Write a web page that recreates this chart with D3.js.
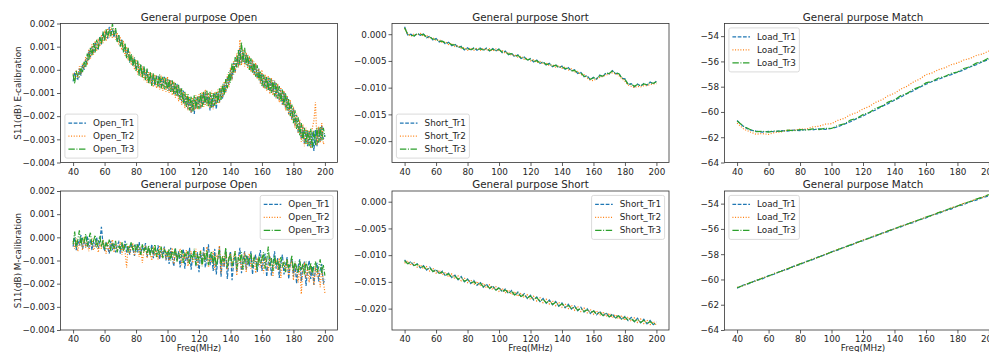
<!DOCTYPE html>
<html>
<head>
<meta charset="utf-8">
<script src="https://cdn.jsdelivr.net/npm/d3@7"></script>
<style>
  body { margin: 0; background: #fff; }
  text { font-family: 'DejaVu Sans', sans-serif; fill: #262626; }
</style>
</head>
<body>
<svg id="chart" width="989" height="352"></svg>
<script>
// sweep points (MHz)
const freq1 = d3.range(40, 201, 1);
const freq2 = d3.range(40, 201, 2);
const freq4 = d3.range(40, 201, 4);
const xTicks = [40, 60, 80, 100, 120, 140, 160, 180, 200];

const openTicks = [0.002, 0.001, 0, -0.001, -0.002, -0.003, -0.004];
const shortTicks = [0, -0.005, -0.010, -0.015, -0.020];
const matchTicks = [-54, -56, -58, -60, -62, -64];

// Open / Short values are stored in units of 1e-5 dB
const UNIT = 1e-5;

// Open, E-calibration, every 1 MHz
const openE_Tr1 = [
  -50, -10, -35, -40, 5, -25, 20, 0, 45, 25,
  85, 55, 100, 70, 120, 95, 90, 145, 110, 160,
  130, 170, 135, 185, 150, 175, 140, 170, 125, 150,
  105, 130, 80, 100, 55, 90, 35, 60, 20, 50,
  0, 35, -15, 20, -30, 10, -40, 0, -55, -15,
  -65, -20, -70, -30, -25, -75, -35, -70, -30, -80,
  -40, -90, -45, -95, -55, -110, -60, -115, -80, -135,
  -90, -150, -110, -170, -125, -185, -130, -190, -120, -165,
  -115, -170, -105, -150, -95, -145, -100, -175, -110, -165,
  -100, -170, -95, -140, -80, -125, -60, -95, -30, -65,
  0, -40, 30, -10, 60, 15, 95, 30, 80, 25,
  70, 15, 55, 0, 40, -20, 25, -35, 5, -55,
  -15, -75, -30, -85, -35, -95, -40, -100, -50, -120,
  -65, -130, -85, -150, -95, -165, -115, -190, -140, -215,
  -165, -240, -195, -270, -225, -300, -245, -320, -260, -330,
  -265, -335, -270, -350, -260, -330, -250, -310, -240, -300,
  -280];
const openE_Tr2 = [
  -15, -45, 0, -35, 15, -20, 30, 5, 55, 20,
  90, 45, 110, 65, 125, 80, 135, 100, 150, 115,
  170, 125, 180, 140, 185, 135, 175, 130, 160, 110,
  140, 85, 125, 60, 100, 40, 80, 20, 60, 0,
  45, -20, 30, -30, 15, -45, 0, -55, -10, -60,
  -15, -75, -20, -80, -30, -85, -25, -90, -35, -95,
  -30, -100, -45, -110, -50, -120, -65, -135, -80, -150,
  -95, -165, -105, -175, -115, -185, -120, -175, -110, -170,
  -105, -165, -95, -160, -85, -155, -100, -165, -90, -170,
  -95, -150, -85, -145, -70, -120, -50, -100, -20, -75,
  10, -45, 40, -15, 70, 10, 130, 20, 90, 15,
  75, 5, 60, -10, 45, -25, 30, -40, 5, -60,
  0, -80, -20, -90, -25, -105, -35, -110, -45, -125,
  -60, -140, -75, -150, -90, -175, -110, -195, -130, -220,
  -160, -250, -190, -275, -215, -310, -235, -330, -250, -320,
  -260, -340, -250, -220, -140, -325, -245, -315, -230, -320,
  -310];
const openE_Tr3 = [
  -20, -60, -5, -30, -30, 15, -10, 35, 10, 70,
  40, 95, 60, 115, 75, 130, 90, 140, 110, 165,
  125, 175, 140, 170, 145, 200, 150, 180, 120, 150,
  100, 130, 75, 115, 50, 95, 30, 70, 15, 55,
  -5, 40, -25, 25, -35, 15, -45, 5, -60, -10,
  -70, -15, -65, -25, -75, -20, -80, -30, -85, -35,
  -90, -40, -95, -45, -105, -55, -115, -65, -130, -80,
  -145, -95, -160, -105, -175, -115, -180, -110, -170, -115,
  -170, -100, -160, -95, -150, -90, -160, -95, -165, -100,
  -155, -95, -145, -80, -130, -60, -110, -40, -80, -10,
  -55, 30, -20, 55, 10, 85, 20, 120, 30, 95,
  20, 65, 0, 50, -15, 35, -30, 20, -45, -5,
  -70, -20, -80, -30, -90, -35, -100, -45, -115, -55,
  -125, -70, -140, -85, -155, -100, -175, -125, -200, -150,
  -230, -175, -255, -205, -285, -230, -305, -250, -320, -260,
  -330, -255, -340, -260, -325, -250, -315, -245, -305, -250,
  -290];

// Open, M-calibration, every 1 MHz
const openM_Tr1 = [
  -40, 0, -55, -15, -30, 10, -50, -20, -35, 5,
  -45, -10, -55, -20, -40, 0, -50, -15, 45, -30,
  -60, -20, -45, -70, -15, -55, -25, -65, -35, -20,
  -70, -30, -55, -15, -65, -35, -75, -25, -50, -80,
  -30, -65, -20, -75, -40, -60, -25, -85, -45, -70,
  -30, -90, -50, -75, -35, -95, -55, -80, -40, -100,
  -60, -115, -45, -90, -125, -50, -100, -60, -130, -75,
  -50, -135, -70, -110, -45, -140, -80, -55, -125, -65,
  -150, -70, -110, -40, -130, -95, -30, -120, -75, -145,
  -50, -160, -90, -40, -170, -85, -130, -55, -180, -95,
  -60, -185, -110, -70, -150, -90, -45, -155, -100, -60,
  -140, -80, -125, -60, -160, -100, -75, -150, -90, -55,
  -145, -100, -70, -170, -110, -80, -165, -115, -60, -135,
  -90, -175, -110, -75, -160, -120, -85, -180, -115, -90,
  -170, -110, -200, -125, -95, -190, -130, -105, -210, -140,
  -100, -180, -125, -205, -135, -110, -190, -140, -115, -200,
  -180];
const openM_Tr2 = [
  -15, -50, -5, -60, -25, -10, -55, 0, -45, -20,
  -60, -30, -5, -55, -40, -15, -65, -25, -50, -10,
  -45, -70, -20, -60, -35, -10, -65, -30, -55, -45,
  -20, -75, -40, -60, -130, -35, -70, -45, -25, -80,
  -50, -30, -85, -40, -110, -55, -35, -90, -45, -70,
  -100, -40, -80, -55, -95, -35, -85, -60, -45, -95,
  -55, -100, -70, -45, -115, -60, -90, -75, -50, -120,
  -70, -95, -55, -125, -75, -60, -110, -85, -50, -130,
  -80, -55, -120, -65, -100, -40, -130, -75, -110, -60,
  -140, -70, -95, -35, -155, -80, -125, -60, -140, -90,
  -70, -130, -85, -60, -165, -95, -75, -140, -100, -65,
  -150, -90, -70, -135, -100, -80, -155, -95, -110, -130,
  -75, -155, -90, -120, -145, -85, -100, -170, -110, -95,
  -140, -90, -175, -115, -105, -150, -95, -165, -120, -100,
  -185, -110, -140, -195, -120, -245, -130, -115, -175, -125,
  -195, -120, -150, -205, -125, -170, -140, -215, -130, -190,
  -240];
const openM_Tr3 = [
  -30, 25, -45, -10, 30, -35, 0, -20, 15, -40,
  -5, 20, -35, -15, 10, -45, -20, 5, -40, -10,
  -55, -25, -40, -10, -60, -30, -45, -15, -65, -35,
  -50, -20, -60, -35, -25, -65, -40, -20, -55, -30,
  -65, -35, -50, -75, -30, -60, -45, -70, -35, -80,
  -45, -70, -30, -85, -50, -75, -40, -90, -55, -65,
  -85, -50, -100, -60, -75, -45, -105, -65, -90, -55,
  -110, -70, -85, -60, -115, -75, -95, -50, -120, -80,
  -95, -60, -125, -70, -105, -55, -120, -85, -60, -115,
  -75, -125, -90, -55, -120, -80, -105, -45, -130, -90,
  -70, -125, -95, -60, -135, -85, -110, -65, -140, -90,
  -75, -120, -95, -70, -130, -85, -105, -140, -80, -115,
  -95, -65, -135, -100, -40, -125, -90, -145, -80, -120,
  -100, -140, -85, -125, -110, -150, -95, -130, -115, -80,
  -145, -105, -130, -155, -100, -140, -115, -160, -105, -135,
  -150, -110, -160, -125, -105, -150, -130, -95, -155, -120,
  -165];

// Short, E-calibration, every 2 MHz
const shortE_Tr1 = [
  140, -15, 0, -40, 15, -20, 5, -65, -40, -110,
  -80, -145, -120, -185, -150, -215, -185, -255, -225, -295,
  -255, -300, -255, -300, -260, -305, -260, -315, -270, -315,
  -275, -345, -315, -385, -355, -425, -385, -455, -425, -490,
  -455, -520, -485, -550, -515, -580, -545, -610, -570, -630,
  -595, -655, -625, -690, -665, -735, -715, -795, -775, -855,
  -805, -840, -765, -795, -720, -745, -680, -740, -725, -825,
  -835, -945, -925, -985, -930, -975, -920, -955, -895, -930,
  -875];
const shortE_Tr2 = [
  110, 10, -40, 5, -20, 15, -40, -20, -80, -65,
  -120, -100, -160, -140, -195, -170, -230, -210, -270, -250,
  -300, -255, -300, -260, -305, -265, -305, -270, -315, -275,
  -320, -300, -360, -340, -400, -385, -430, -410, -470, -450,
  -500, -480, -530, -510, -560, -540, -590, -570, -615, -590,
  -640, -615, -670, -650, -710, -695, -760, -755, -820, -860,
  -870, -835, -810, -790, -765, -740, -725, -740, -770, -830,
  -880, -950, -975, -1000, -975, -985, -965, -960, -945, -930,
  -925];
const shortE_Tr3 = [
  120, -5, -20, -30, 10, -10, -5, -55, -50, -95,
  -95, -135, -130, -170, -165, -200, -200, -240, -240, -285,
  -270, -290, -265, -290, -275, -295, -270, -305, -280, -305,
  -285, -335, -325, -375, -365, -415, -395, -445, -435, -480,
  -465, -510, -495, -540, -525, -570, -555, -600, -580, -620,
  -605, -645, -635, -680, -675, -725, -725, -785, -790, -845,
  -815, -830, -775, -785, -730, -735, -690, -730, -735, -815,
  -845, -935, -935, -975, -940, -965, -930, -945, -905, -920,
  -890];

// Short, M-calibration, every 2 MHz
const shortM_Tr1 = [
  -1090, -1165, -1120, -1200, -1160, -1240, -1195, -1280, -1225, -1310,
  -1265, -1350, -1300, -1390, -1335, -1420, -1375, -1460, -1400, -1500,
  -1445, -1530, -1475, -1565, -1505, -1600, -1540, -1625, -1570, -1660,
  -1600, -1690, -1630, -1720, -1660, -1755, -1690, -1780, -1720, -1810,
  -1750, -1840, -1780, -1870, -1810, -1900, -1840, -1930, -1865, -1955,
  -1895, -1985, -1920, -2010, -1950, -2040, -1975, -2065, -2000, -2090,
  -2030, -2115, -2050, -2140, -2075, -2160, -2095, -2185, -2120, -2205,
  -2145, -2225, -2165, -2245, -2180, -2265, -2200, -2285, -2220, -2300,
  -2250];
const shortM_Tr2 = [
  -1150, -1105, -1190, -1140, -1225, -1180, -1260, -1215, -1300, -1245,
  -1335, -1280, -1370, -1320, -1410, -1350, -1445, -1390, -1480, -1425,
  -1515, -1460, -1550, -1490, -1580, -1525, -1615, -1555, -1645, -1590,
  -1675, -1620, -1710, -1650, -1740, -1680, -1770, -1710, -1800, -1740,
  -1830, -1770, -1860, -1795, -1890, -1825, -1915, -1855, -1945, -1880,
  -1975, -1910, -2000, -1935, -2030, -1960, -2055, -1990, -2080, -2015,
  -2105, -2040, -2125, -2060, -2150, -2085, -2175, -2110, -2195, -2130,
  -2220, -2155, -2240, -2175, -2260, -2195, -2280, -2215, -2300, -2240,
  -2310];
const shortM_Tr3 = [
  -1105, -1160, -1135, -1195, -1170, -1230, -1210, -1270, -1240, -1305,
  -1280, -1340, -1315, -1380, -1350, -1415, -1390, -1450, -1420, -1490,
  -1460, -1520, -1495, -1555, -1525, -1590, -1555, -1620, -1585, -1655,
  -1615, -1680, -1650, -1710, -1680, -1745, -1705, -1775, -1740, -1800,
  -1765, -1830, -1795, -1860, -1825, -1890, -1855, -1920, -1880, -1950,
  -1910, -1975, -1940, -2000, -1965, -2030, -1995, -2055, -2020, -2080,
  -2045, -2105, -2070, -2130, -2090, -2155, -2115, -2175, -2135, -2200,
  -2160, -2215, -2185, -2240, -2200, -2260, -2220, -2280, -2240, -2295,
  -2270];

// Match values in dB, every 4 MHz
const matchE_Tr1 = [
  -60.68, -61.15, -61.42, -61.52, -61.60, -61.53, -61.57, -61.48, -61.52, -61.43,
  -61.47, -61.38, -61.42, -61.33, -61.38, -61.30, -61.18, -60.97, -60.78, -60.53,
  -60.33, -60.06, -59.84, -59.56, -59.34, -59.07, -58.83, -58.55, -58.32, -58.05,
  -57.81, -57.59, -57.42, -57.21, -57.05, -56.86, -56.68, -56.44, -56.26, -56.02,
  -55.84];
const matchE_Tr2 = [
  -60.88, -61.33, -61.57, -61.76, -61.71, -61.78, -61.62, -61.58, -61.44, -61.45,
  -61.35, -61.35, -61.19, -61.13, -60.97, -60.93, -60.67, -60.51, -60.22, -60.05,
  -59.77, -59.56, -59.24, -59.04, -58.72, -58.53, -58.19, -57.97, -57.63, -57.40,
  -57.05, -56.91, -56.65, -56.51, -56.26, -56.13, -55.89, -55.77, -55.53, -55.41,
  -55.17];
const matchE_Tr3 = [
  -60.71, -61.12, -61.37, -61.56, -61.53, -61.59, -61.50, -61.54, -61.44, -61.49,
  -61.39, -61.44, -61.34, -61.39, -61.29, -61.31, -61.07, -60.94, -60.65, -60.50,
  -60.21, -60.04, -59.72, -59.54, -59.22, -59.04, -58.71, -58.53, -58.20, -58.02,
  -57.70, -57.57, -57.31, -57.19, -56.94, -56.84, -56.56, -56.42, -56.14, -56.00,
  -55.72];

const matchM_Tr1 = [
  -60.70, -60.44, -60.32, -60.07, -59.95, -59.70, -59.57, -59.32, -59.20, -58.95,
  -58.82, -58.57, -58.44, -58.19, -58.06, -57.81, -57.68, -57.44, -57.31, -57.07,
  -56.94, -56.70, -56.57, -56.33, -56.21, -55.97, -55.85, -55.61, -55.50, -55.26,
  -55.14, -54.90, -54.79, -54.55, -54.43, -54.20, -54.08, -53.85, -53.73, -53.52,
  -53.40];
const matchM_Tr2 = [
  -60.62, -60.49, -60.25, -60.12, -59.88, -59.75, -59.50, -59.37, -59.13, -59.00,
  -58.75, -58.62, -58.37, -58.24, -57.99, -57.86, -57.61, -57.49, -57.24, -57.12,
  -56.87, -56.75, -56.50, -56.38, -56.13, -56.01, -55.77, -55.65, -55.41, -55.29,
  -55.05, -54.93, -54.69, -54.57, -54.33, -54.21, -53.97, -53.85, -53.62, -53.50,
  -53.27];
const matchM_Tr3 = [
  -60.66, -60.47, -60.27, -60.10, -59.90, -59.73, -59.52, -59.35, -59.15, -58.98,
  -58.77, -58.60, -58.39, -58.22, -58.01, -57.84, -57.63, -57.47, -57.26, -57.10,
  -56.89, -56.73, -56.52, -56.36, -56.15, -55.99, -55.79, -55.63, -55.43, -55.27,
  -55.07, -54.91, -54.71, -54.55, -54.35, -54.19, -53.99, -53.83, -53.64, -53.48,
  -53.29];

const traceNames = ['Tr1', 'Tr2', 'Tr3'];
const colors = ['#1f77b4', '#ff7f0e', '#2ca02c'];
const dashes = ['3.7,1.6', '1,1.65', '6.4,1.6,1,1.6'];

const scaled = arr => arr.map(v => v * UNIT);
const fmt3 = d3.format('.3f');
const fmtInt = d3.format('d');

const panels = [
  { row: 0, col: 0, title: 'General purpose Open', name: 'Open', x: freq1,
    series: [openE_Tr1, openE_Tr2, openE_Tr3].map(scaled),
    yDomain: [-0.004, 0.002], yTicks: openTicks, fmt: fmt3, legend: 'lower left',
    ylabel: 'S11(dB) E-calibration' },
  { row: 0, col: 1, title: 'General purpose Short', name: 'Short', x: freq2,
    series: [shortE_Tr1, shortE_Tr2, shortE_Tr3].map(scaled),
    yDomain: [-0.024, 0.002], yTicks: shortTicks, fmt: fmt3, legend: 'lower left' },
  { row: 0, col: 2, title: 'General purpose Match', name: 'Load', x: freq4,
    series: [matchE_Tr1, matchE_Tr2, matchE_Tr3],
    yDomain: [-64, -53], yTicks: matchTicks, fmt: fmtInt, legend: 'upper left' },
  { row: 1, col: 0, title: 'General purpose Open', name: 'Open', x: freq1,
    series: [openM_Tr1, openM_Tr2, openM_Tr3].map(scaled),
    yDomain: [-0.004, 0.002], yTicks: openTicks, fmt: fmt3, legend: 'upper right',
    ylabel: 'S11(dB) M-calibration', xlabel: true },
  { row: 1, col: 1, title: 'General purpose Short', name: 'Short', x: freq2,
    series: [shortM_Tr1, shortM_Tr2, shortM_Tr3].map(scaled),
    yDomain: [-0.024, 0.002], yTicks: shortTicks, fmt: fmt3, legend: 'upper right', xlabel: true },
  { row: 1, col: 2, title: 'General purpose Match', name: 'Load', x: freq4,
    series: [matchM_Tr1, matchM_Tr2, matchM_Tr3],
    yDomain: [-64, -53], yTicks: matchTicks, fmt: fmtInt, legend: 'upper left', xlabel: true }
];

const colLeft = [60.5, 392, 724.5];
const rowTop = [23.5, 191];
const pw = 277;
const ph = 139;
const fs = 8.8;

const svg = d3.select('#chart');
svg.append('rect').attr('width', 989).attr('height', 352).attr('fill', '#fff');

panels.forEach((p, i) => {
  const left = colLeft[p.col];
  const top = rowTop[p.row];
  const g = svg.append('g').attr('transform', `translate(${left},${top})`);

  const x = d3.scaleLinear().domain([32, 208]).range([0, pw]);
  const y = d3.scaleLinear().domain(p.yDomain).range([ph, 0]);

  g.append('clipPath').attr('id', `clip${i}`)
    .append('rect').attr('width', pw).attr('height', ph);

  const line = d3.line()
    .x((d, j) => x(p.x[j]))
    .y(d => y(d));

  p.series.forEach((s, k) => {
    g.append('path')
      .datum(s)
      .attr('clip-path', `url(#clip${i})`)
      .attr('d', line)
      .attr('fill', 'none')
      .attr('stroke', colors[k])
      .attr('stroke-width', 1.2)
      .attr('stroke-dasharray', dashes[k]);
  });

  const xAxis = g.append('g')
    .attr('transform', `translate(0,${ph})`)
    .call(d3.axisBottom(x).tickValues(xTicks).tickSize(3.5).tickPadding(2.5));
  const yAxis = g.append('g')
    .call(d3.axisLeft(y).tickValues(p.yTicks).tickFormat(p.fmt).tickSize(3.5).tickPadding(2));

  [xAxis, yAxis].forEach(a => {
    a.select('.domain').remove();
    a.selectAll('line').attr('stroke', '#333').attr('stroke-width', 0.8);
    a.selectAll('text').attr('font-size', fs).attr('fill', '#262626')
      .attr('font-family', "'DejaVu Sans', sans-serif");
  });

  g.append('rect')
    .attr('width', pw).attr('height', ph)
    .attr('fill', 'none').attr('stroke', '#333').attr('stroke-width', 0.8);

  g.append('text')
    .attr('x', pw / 2).attr('y', -3)
    .attr('text-anchor', 'middle')
    .attr('font-size', 10.3)
    .text(p.title);

  if (p.ylabel) {
    g.append('text')
      .attr('transform', `translate(${18.3 - left},${ph / 2}) rotate(-90)`)
      .attr('text-anchor', 'middle')
      .attr('dominant-baseline', 'central')
      .attr('font-size', fs)
      .text(p.ylabel);
  }
  if (p.xlabel) {
    g.append('text')
      .attr('x', pw / 2).attr('y', ph + 21)
      .attr('text-anchor', 'middle')
      .attr('font-size', fs)
      .text('Freq(MHz)');
  }

  // legend, matplotlib style
  const pad = 0.4 * fs, handle = 2 * fs, gap = 0.8 * fs, edge = 0.5 * fs;
  const rowStep = 13, boxH = 44;
  const lg = g.append('g');
  const box = lg.append('rect')
    .attr('rx', 2).attr('ry', 2)
    .attr('fill', '#fff').attr('fill-opacity', 0.8)
    .attr('stroke', '#d0d0d0').attr('stroke-width', 0.8);
  let maxW = 0;
  traceNames.forEach((t, k) => {
    const cy = pad + 5.5 + k * rowStep;
    lg.append('line')
      .attr('x1', pad).attr('x2', pad + handle)
      .attr('y1', cy).attr('y2', cy)
      .attr('stroke', colors[k]).attr('stroke-width', 1.1)
      .attr('stroke-dasharray', dashes[k]);
    const txt = lg.append('text')
      .attr('x', pad + handle + gap).attr('y', cy)
      .attr('dominant-baseline', 'central')
      .attr('font-size', fs)
      .text(`${p.name}_${t}`);
    maxW = Math.max(maxW, txt.node().getComputedTextLength());
  });
  const boxW = pad + handle + gap + maxW + pad;
  box.attr('width', boxW).attr('height', boxH);
  let lx = edge, ly = edge;
  if (p.legend.includes('right')) lx = pw - edge - boxW;
  if (p.legend.includes('lower')) ly = ph - edge - boxH;
  lg.attr('transform', `translate(${lx},${ly})`);
});
</script>
</body>
</html>
